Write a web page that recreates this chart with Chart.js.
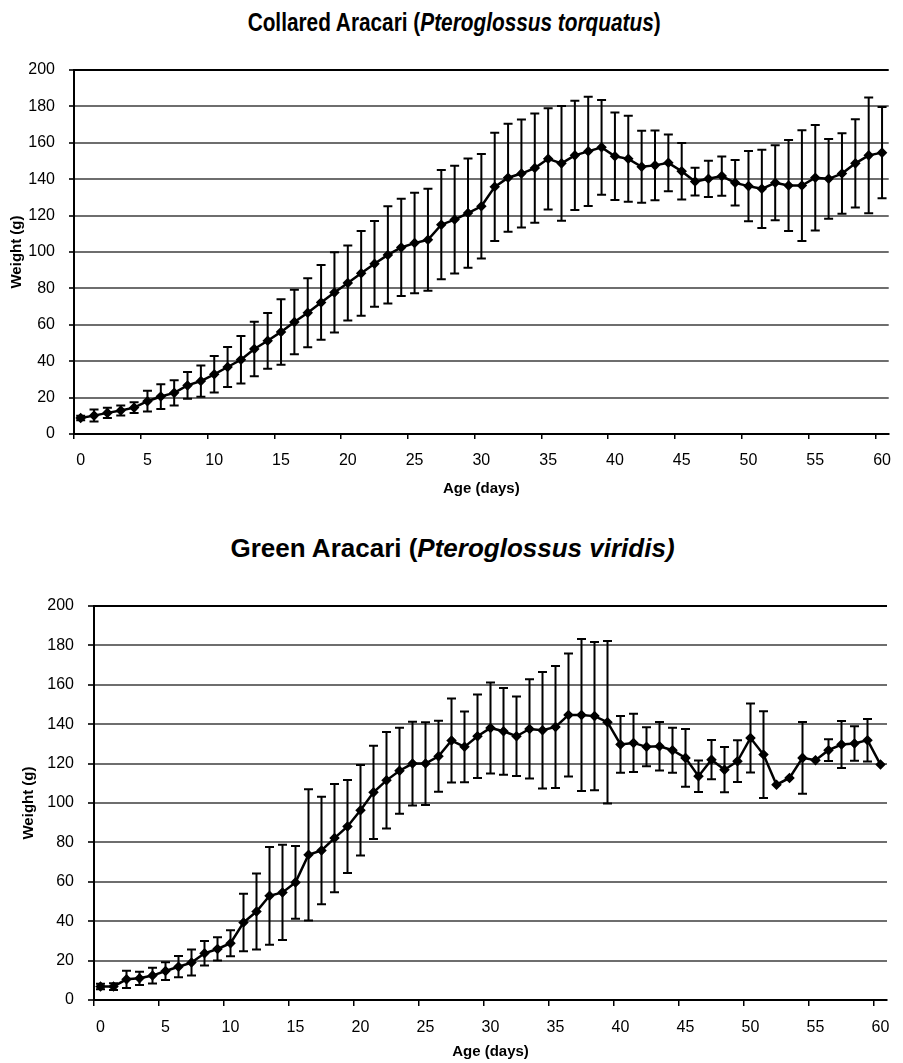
<!DOCTYPE html>
<html lang="en">
<head>
    <meta charset="UTF-8">
    <title>Aracari chick growth</title>
    <script src="https://cdn.jsdelivr.net/npm/chart.js"></script>
    <style>
        body { margin: 0; background: #fff; font-family: "Liberation Sans", Arial, sans-serif; }
        .title {
            position: absolute; left: 0; width: 903px; height: 30px; line-height: 30px;
            text-align: center; font-weight: bold; font-size: 26px; color: #000;
            box-sizing: border-box;
        }
        .title span { display: inline-block; }
        .box { position: absolute; left: 0; width: 903px; }
    </style>
</head>
<body>
    <div class="title" style="top:7px; padding-left:6px"><span style="transform:scaleX(0.8)">Collared Aracari (<i>Pteroglossus torquatus</i>)</span></div>
    <div class="box" style="top:0; height:505px"><canvas id="collaredChart"></canvas></div>

    <div class="title" style="top:533px; padding-left:2px"><span>Green Aracari (<i>Pteroglossus viridis)</i></span></div>
    <div class="box" style="top:520px; height:543px"><canvas id="greenChart"></canvas></div>

    <script>
        // age in days (categories)
        const days = [0, 1, 2, 3, 4, 5, 6, 7, 8, 9, 10, 11, 12, 13, 14, 15, 16, 17, 18, 19, 20,
            21, 22, 23, 24, 25, 26, 27, 28, 29, 30, 31, 32, 33, 34, 35, 36, 37, 38, 39, 40,
            41, 42, 43, 44, 45, 46, 47, 48, 49, 50, 51, 52, 53, 54, 55, 56, 57, 58, 59, 60];

        // Collared Aracari mean weight (g) and SD
        const collaredMean = [8.8, 10.1, 11.6, 12.9, 14.5, 18, 20.6, 22.6, 26.7, 29.1,
            32.8, 36.8, 40.8, 46.7, 51.2, 56.1, 61.5, 66.6, 72.3, 77.8,
            83, 88.3, 93.5, 98.4, 102.5, 104.9, 106.7, 115, 117.8, 121.4,
            125.1, 135.8, 140.8, 143.1, 146.1, 151.2, 148.7, 153.1, 155.3, 157.5,
            152.6, 151.2, 146.8, 147.6, 149, 144.4, 138.7, 140.2, 141.7, 138,
            136.2, 134.7, 138, 136.5, 136.5, 140.8, 140.2, 143.1, 148.7, 153.1, 154.6];
        const collaredSD = [1.2, 3.3, 2.8, 2.7, 3, 5.7, 6.8, 7, 7.4, 8.6,
            10, 11, 13, 15, 15.3, 18, 17.7, 19, 20.5, 22,
            20.6, 23.3, 23.6, 26.7, 26.7, 27.6, 28, 30, 29.6, 30,
            28.7, 29.7, 29.7, 29.7, 30, 27.8, 31.5, 30, 30, 26,
            24, 23.6, 19.8, 19.2, 15.6, 15.5, 7.6, 10, 10.8, 12.5,
            19.3, 21.5, 20.6, 25, 30.4, 29, 21.9, 22.1, 24.2, 31.8, 25.1];

        // Green Aracari mean weight (g) and SD (0 = no bar)
        const greenMean = [6.8, 6.8, 10.5, 11, 12.4, 14.7, 16.9, 19, 23.7, 25.9,
            28.8, 39.3, 44.9, 52.9, 54.6, 59.7, 73.7, 75.9, 82.2, 88.1,
            96.3, 105.4, 111.5, 116.4, 120, 120, 123.7, 131.7, 128.5, 133.9,
            138.1, 136.4, 133.9, 137.6, 136.9, 138.6, 144.7, 144.7, 144.1, 141,
            129.7, 130.5, 128.5, 128.8, 126.8, 122.9, 113.6, 122, 116.9, 121.2,
            133, 124.6, 109.3, 112.7, 122.9, 121.7, 126.8, 129.7, 130.2, 131.9, 119.5];
        const greenSD = [1.4, 1.7, 4.4, 3.4, 4, 4.5, 5.4, 6.6, 6.2, 5.9,
            6.6, 14.6, 19.3, 24.8, 24.2, 18.5, 33.3, 27.3, 27.5, 23.6,
            23, 23.7, 24.5, 21.8, 21.3, 21, 18, 21.3, 18, 21.2,
            23.1, 22, 20.2, 25.2, 29.6, 31, 31.2, 38.6, 37.6, 41.2,
            14.4, 14.8, 9.9, 12.3, 11.4, 14.7, 8, 10, 11.5, 10.6,
            17.5, 22, 0, 0, 18.2, 0, 5.5, 11.9, 8.7, 10.8, 0];

        const yTicks = [0, 20, 40, 60, 80, 100, 120, 140, 160, 180, 200];

        Chart.defaults.font.family = '"Liberation Sans", Arial, sans-serif';
        Chart.defaults.color = '#000';

        // draws mean +/- SD whiskers with caps
        const errorBars = {
            id: 'errorBars',
            afterDatasetsDraw(chart) {
                const { ctx, scales: { x, y } } = chart;
                const ds = chart.data.datasets[0];
                ctx.save();
                ctx.strokeStyle = '#000';
                ctx.lineWidth = 2;
                ds.data.forEach((m, i) => {
                    const s = ds.errors[i];
                    if (!s) return;
                    const px = x.getPixelForValue(i);
                    const top = y.getPixelForValue(m + s);
                    const bot = y.getPixelForValue(m - s);
                    ctx.beginPath();
                    ctx.moveTo(px, top); ctx.lineTo(px, bot);
                    ctx.moveTo(px - 4.5, top); ctx.lineTo(px + 4.5, top);
                    ctx.moveTo(px - 4.5, bot); ctx.lineTo(px + 4.5, bot);
                    ctx.stroke();
                });
                ctx.restore();
            }
        };

        function makeChart(id, mean, sd, geo) {
            const ctx = document.getElementById(id).getContext('2d');
            return new Chart(ctx, {
                type: 'line',
                data: {
                    labels: days.map(String),
                    datasets: [{
                        data: mean,
                        errors: sd,
                        borderColor: '#000',
                        borderWidth: 2.5,
                        backgroundColor: '#000',
                        pointStyle: 'rectRot',
                        pointRadius: 3.5,
                        tension: 0
                    }]
                },
                options: {
                    responsive: true,
                    maintainAspectRatio: false,
                    animation: false,
                    layout: { padding: { top: geo.top, right: geo.right, left: 0, bottom: 0 } },
                    plugins: { legend: { display: false }, tooltip: { enabled: false } },
                    scales: {
                        x: {
                            type: 'category',
                            offset: true,
                            border: { color: '#000', width: 2 },
                            grid: {
                                offset: true,
                                drawOnChartArea: false,
                                tickLength: geo.tick,
                                lineWidth: 1.5,
                                color: c => c.index % 5 === 0 ? '#000' : 'rgba(0,0,0,0)',
                                tickColor: c => c.index % 5 === 0 ? '#000' : 'rgba(0,0,0,0)'
                            },
                            ticks: {
                                autoSkip: false,
                                maxRotation: 0,
                                padding: 12,
                                font: { size: 16 },
                                callback: (v, i) => i % 5 === 0 ? String(days[i]) : ''
                            },
                            title: {
                                display: true, text: 'Age (days)',
                                font: { size: 15, weight: 'bold' },
                                padding: { top: 0, bottom: geo.xTitlePad }
                            },
                            afterFit: s => { s.height = geo.xHeight; }
                        },
                        y: {
                            min: 0,
                            max: 200,
                            afterBuildTicks: s => { s.ticks = yTicks.map(v => ({ value: v })); },
                            border: { color: '#000', width: 2 },
                            grid: {
                                tickLength: geo.tick,
                                color: c => (c.tick.value === 200 || c.tick.value === 0) ? '#000' : '#6e6e6e',
                                lineWidth: 2,
                                tickColor: '#333'
                            },
                            ticks: { padding: 14, font: { size: 16 } },
                            title: {
                                display: true, text: 'Weight (g)',
                                font: { size: 15, weight: 'bold' },
                                padding: { top: geo.yTitlePad, bottom: 0 }
                            },
                            afterFit: s => { s.width = geo.yWidth; }
                        }
                    }
                },
                plugins: [errorBars]
            });
        }

        makeChart('collaredChart', collaredMean, collaredSD,
            { top: 70, right: 5, yWidth: 74, xHeight: 71, tick: 5, xTitlePad: 7, yTitlePad: 8 });
        makeChart('greenChart', greenMean, greenSD,
            { top: 86, right: 16, yWidth: 94, xHeight: 63, tick: 6, xTitlePad: 2, yTitlePad: 20 });
    </script>
</body>
</html>
